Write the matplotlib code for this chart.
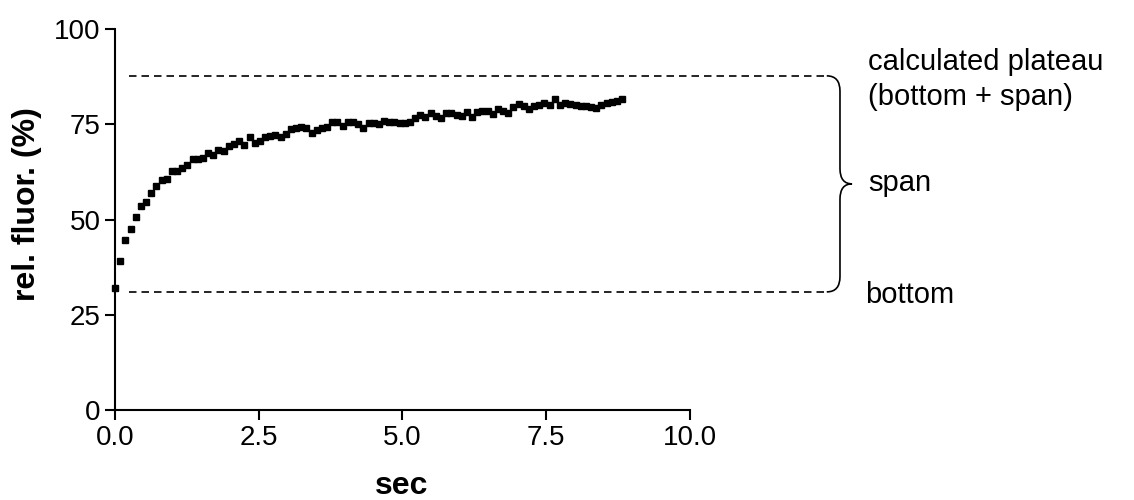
import numpy as np
import matplotlib
matplotlib.use("Agg")
import matplotlib.pyplot as plt
from matplotlib.path import Path
from matplotlib.patches import PathPatch

plt.rcParams['font.family'] = ['Liberation Sans', 'DejaVu Sans']

# relative fluorescence (%), one point every 0.09 s
rel_fluor = [32.1, 39.2, 44.6, 47.5, 50.7, 53.5, 54.7, 57.0, 58.8, 60.4,
             60.6, 62.8, 62.7, 63.6, 64.2, 65.8, 65.9, 66.1, 67.4, 66.9,
             68.2, 68.1, 69.3, 69.8, 70.7, 69.6, 71.6, 70.0, 70.7, 71.6,
             72.0, 72.2, 71.6, 72.4, 73.7, 73.9, 74.4, 73.9, 72.8, 73.5,
             74.1, 74.4, 75.5, 75.7, 74.5, 75.5, 75.7, 75.0, 73.9, 75.2,
             75.2, 75.0, 75.9, 75.7, 75.5, 75.4, 75.4, 75.7, 76.6, 77.4,
             77.0, 77.9, 77.2, 76.6, 77.9, 77.9, 77.3, 77.2, 78.3, 76.8,
             78.3, 78.5, 78.5, 77.6, 78.9, 78.6, 78.0, 79.6, 80.3, 79.8,
             79.0, 79.8, 80.1, 80.6, 80.1, 81.5, 80.1, 80.7, 80.3, 80.1,
             79.8, 79.8, 79.6, 79.2, 80.1, 80.6, 80.9, 81.2, 81.5]
dt = 0.09  # sampling interval (s)
time_s = np.arange(len(rel_fluor)) * dt

plateau = 87.7
bottom = 31.0

xticks = [0.0, 2.5, 5.0, 7.5, 10.0]
yticks = [0, 25, 50, 75, 100]

fig = plt.figure(figsize=(11.34, 5.0), dpi=100)
ax = fig.add_axes([0.1014, 0.18, 0.507, 0.762])

ax.plot(time_s, rel_fluor, 's', color='black', ms=4.5, clip_on=False, zorder=3)

# dashed fit lines, run out past the axes to the brace
x_end = 12.38
for yv in (plateau, bottom):
    ax.plot([0.24, x_end], [yv, yv], color='black', lw=1.2,
            linestyle=(0, (4.5, 3)), clip_on=False)

# curly brace for the span
x1, xt = 12.61, 12.82
ym = (plateau + bottom) / 2
verts = [(x_end, plateau), (x1, plateau), (x1, plateau - 4),
         (x1, ym + 4), (x1, ym), (xt, ym),
         (x1, ym), (x1, ym - 4),
         (x1, bottom + 4), (x1, bottom), (x_end, bottom)]
codes = [Path.MOVETO, Path.CURVE3, Path.CURVE3,
         Path.LINETO, Path.CURVE3, Path.CURVE3,
         Path.CURVE3, Path.CURVE3,
         Path.LINETO, Path.CURVE3, Path.CURVE3]
ax.add_patch(PathPatch(Path(verts, codes), fill=False, lw=1.2,
                       edgecolor='black', clip_on=False))

fs = 21
ax.text(13.1, 91.3, "calculated plateau", fontsize=fs, va='center', ha='left')
ax.text(13.1, 82.2, "(bottom + span)", fontsize=fs, va='center', ha='left')
ax.text(13.1, 59.6, "span", fontsize=fs, va='center', ha='left')
ax.text(13.04, 30.2, "bottom", fontsize=fs, va='center', ha='left')

ax.set_xlim(0, 10)
ax.set_ylim(0, 100)
ax.set_xticks(xticks)
ax.set_xticklabels([f"{v:.1f}" for v in xticks])
ax.set_yticks(yticks)
ax.tick_params(direction='out', length=7, width=1.5, labelsize=20)
for s in ('top', 'right'):
    ax.spines[s].set_visible(False)
for s in ('left', 'bottom'):
    ax.spines[s].set_linewidth(1.5)

# axis titles placed where the reference has them
fig.text(402 / 1134, 1 - 486 / 500, "sec", fontsize=23, fontweight='bold',
         ha='center', va='center')
fig.text(27 / 1134, 1 - 204 / 500, "rel. fluor. (%)", fontsize=23,
         fontweight='bold', ha='center', va='center', rotation=90)

fig.savefig("out.png", dpi=100)
